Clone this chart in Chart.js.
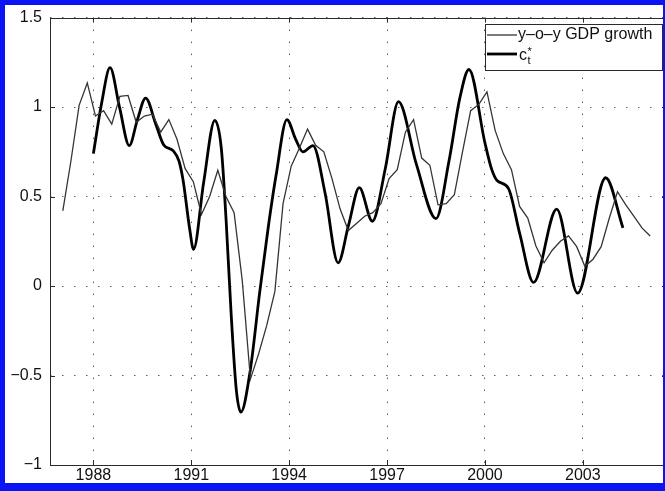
<!DOCTYPE html>
<html>
<head>
<meta charset="utf-8">
<script src="https://cdn.jsdelivr.net/npm/chart.js@4.4.0/dist/chart.umd.min.js"></script>
<style>
  html, body { margin: 0; padding: 0; background: #fff; overflow: hidden; }
  #wrap { position: relative; width: 665px; height: 491px; overflow: hidden; }
  #wrap canvas { position: absolute; left: 0; top: 0; }
  #frame { position: absolute; left: 0; top: 0; width: 665px; height: 491px; box-sizing: border-box;
    border-style: solid; border-color: #0a14f5; border-width: 5px 2px 8px 5px; pointer-events: none; }
</style>
</head>
<body>
<div id="wrap">
  <canvas id="chart" width="672" height="491"></canvas>
  <div id="frame"></div>
</div>
<script>
// y-o-y GDP growth, quarterly from 1987Q1 to 2005Q1
const gdpStartYear = 1987
const gdpGrowth = [
  0.42, 0.70, 1.01, 1.135,
  0.95, 0.98, 0.905, 1.06,
  1.065, 0.915, 0.95, 0.96,
  0.86, 0.93, 0.82, 0.656,
  0.583, 0.40, 0.50, 0.647,
  0.50, 0.41, 0.03, -0.52,
  -0.38, -0.22, -0.03, 0.46,
  0.67, 0.77, 0.877, 0.786,
  0.75, 0.60, 0.43, 0.31,
  0.35, 0.39, 0.41, 0.46,
  0.60, 0.65, 0.86, 0.93,
  0.715, 0.675, 0.454, 0.46,
  0.51, 0.75, 0.98, 1.015,
  1.085, 0.87, 0.74, 0.65,
  0.445, 0.38, 0.224, 0.13,
  0.20, 0.25, 0.28, 0.22,
  0.11, 0.15, 0.22, 0.38,
  0.527, 0.455, 0.39, 0.325,
  0.28
]
const gdpDates = gdpGrowth.map((v, i) => gdpStartYear + Math.floor(i / 4) + (i % 4) * 0.25 + 0.0625)

// c*_t (smooth component), read at its turning points
const cYears = [
  1988.0, 1988.25, 1988.51, 1988.8, 1989.1, 1989.35, 1989.6, 1989.92,
  1990.15, 1990.45, 1990.62, 1990.75, 1990.95, 1991.07, 1991.38, 1991.72,
  1991.92, 1992.07, 1992.22, 1992.38, 1992.52, 1992.8, 1993.1, 1993.36,
  1993.6, 1993.93, 1994.2, 1994.42, 1994.73, 1995.1, 1995.5, 1995.82,
  1996.15, 1996.55, 1996.95, 1997.35, 1997.9, 1998.5, 1998.9, 1999.23,
  1999.51, 2000.0, 2000.2, 2000.37, 2000.72, 2001.07, 2001.49, 2002.2,
  2002.84, 2003.7, 2004.23
]
const cValues = [
  0.74, 1.02, 1.22, 1.0, 0.785, 0.93, 1.05, 0.90,
  0.79, 0.755, 0.70, 0.59, 0.32, 0.205, 0.58, 0.925,
  0.77, 0.36, -0.15, -0.58, -0.705, -0.48, -0.03, 0.33,
  0.62, 0.93, 0.82, 0.75, 0.785, 0.52, 0.13, 0.34,
  0.55, 0.362, 0.66, 1.03, 0.68, 0.377, 0.70, 1.05,
  1.21, 0.80, 0.656, 0.59, 0.546, 0.29, 0.02, 0.43,
  -0.04, 0.605, 0.325
]

const xTicks = [1988, 1991, 1994, 1997, 2000, 2003]
const yTicks = [-1, -0.5, 0, 0.5, 1, 1.5]

const fontFamily = "'Liberation Sans', Arial, Helvetica, sans-serif"
const axisColor = '#2a2a2a'

const matlabBox = {
  id: 'matlabBox',
  afterDraw(chart) {
    const { ctx, chartArea: a, scales } = chart
    ctx.save()
    ctx.strokeStyle = axisColor
    ctx.lineWidth = 1
    ctx.beginPath()
    // inward tick marks on all four sides
    xTicks.forEach((v) => {
      const px = Math.round(scales.x.getPixelForValue(v)) + 0.5
      ctx.moveTo(px, a.bottom); ctx.lineTo(px, a.bottom - 5)
      ctx.moveTo(px, a.top); ctx.lineTo(px, a.top + 5)
    })
    yTicks.forEach((v) => {
      const py = Math.round(scales.y.getPixelForValue(v)) + 0.5
      ctx.moveTo(a.left, py); ctx.lineTo(a.left + 5, py)
      ctx.moveTo(a.right, py); ctx.lineTo(a.right - 5, py)
    })
    ctx.stroke()
    ctx.strokeRect(Math.round(a.left) + 0.5, Math.round(a.top) + 0.5,
      Math.round(a.right - a.left), Math.round(a.bottom - a.top))

    // legend
    const ds = chart.data.datasets
    const bx = 485.5, by = 24.5, bw = 177, bh = 46
    ctx.fillStyle = '#fff'
    ctx.fillRect(bx, by, bw, bh)
    ctx.strokeRect(bx, by, bw, bh)

    ctx.beginPath()
    ctx.strokeStyle = ds[0].borderColor
    ctx.lineWidth = ds[0].borderWidth
    ctx.moveTo(487, 35); ctx.lineTo(517, 35)
    ctx.stroke()
    ctx.beginPath()
    ctx.strokeStyle = ds[1].borderColor
    ctx.lineWidth = ds[1].borderWidth
    ctx.moveTo(487, 54); ctx.lineTo(517, 54)
    ctx.stroke()

    ctx.fillStyle = '#111'
    ctx.textAlign = 'left'
    ctx.textBaseline = 'middle'
    ctx.font = '16px ' + fontFamily
    ctx.fillText(ds[0].label, 518, 35)
    ctx.textBaseline = 'alphabetic'
    ctx.fillText('c', 519, 59.5)
    ctx.font = '11px ' + fontFamily
    ctx.fillText('t', 527.5, 64)
    ctx.fillText('*', 527.5, 55)
    ctx.restore()
  }
}

new Chart(document.getElementById('chart'), {
  type: 'line',
  data: {
    datasets: [
      {
        label: 'y\u2013o\u2013y GDP growth',
        data: gdpDates.map((x, i) => ({ x: x, y: gdpGrowth[i] })),
        borderColor: '#353535',
        borderWidth: 1.3,
        pointRadius: 0,
        tension: 0
      },
      {
        label: 'c*t',
        data: cYears.map((x, i) => ({ x: x, y: cValues[i] })),
        borderColor: '#000',
        borderWidth: 2.8,
        pointRadius: 0,
        cubicInterpolationMode: 'monotone'
      }
    ]
  },
  options: {
    responsive: false,
    animation: false,
    layout: { padding: { top: 15, right: 5, left: 0, bottom: 0 } },
    plugins: { legend: { display: false }, tooltip: { enabled: false } },
    scales: {
      x: {
        type: 'linear',
        min: 1986.67,
        max: 2005.58,
        afterBuildTicks: (s) => { s.ticks = xTicks.map((v) => ({ value: v })) },
        afterFit: (s) => { s.height = 26 },
        ticks: {
          font: { family: fontFamily, size: 16 },
          color: '#111',
          padding: 1,
          maxRotation: 0,
          autoSkip: false,
          callback: (v) => String(v)
        },
        grid: { color: '#5e5e5e', lineWidth: 1, drawTicks: false },
        border: { display: false, dash: [1.5, 10.5] }
      },
      y: {
        min: -1,
        max: 1.5,
        afterBuildTicks: (s) => { s.ticks = yTicks.map((v) => ({ value: v })) },
        afterFit: (s) => { s.width = 50 },
        ticks: {
          font: { family: fontFamily, size: 16 },
          color: '#111',
          padding: 8,
          callback: (v) => String(v).replace('-', '\u2212')
        },
        grid: { color: '#5e5e5e', lineWidth: 1, drawTicks: false },
        border: { display: false, dash: [1.5, 10.5] }
      }
    }
  },
  plugins: [matlabBox]
})
</script>
</body>
</html>
